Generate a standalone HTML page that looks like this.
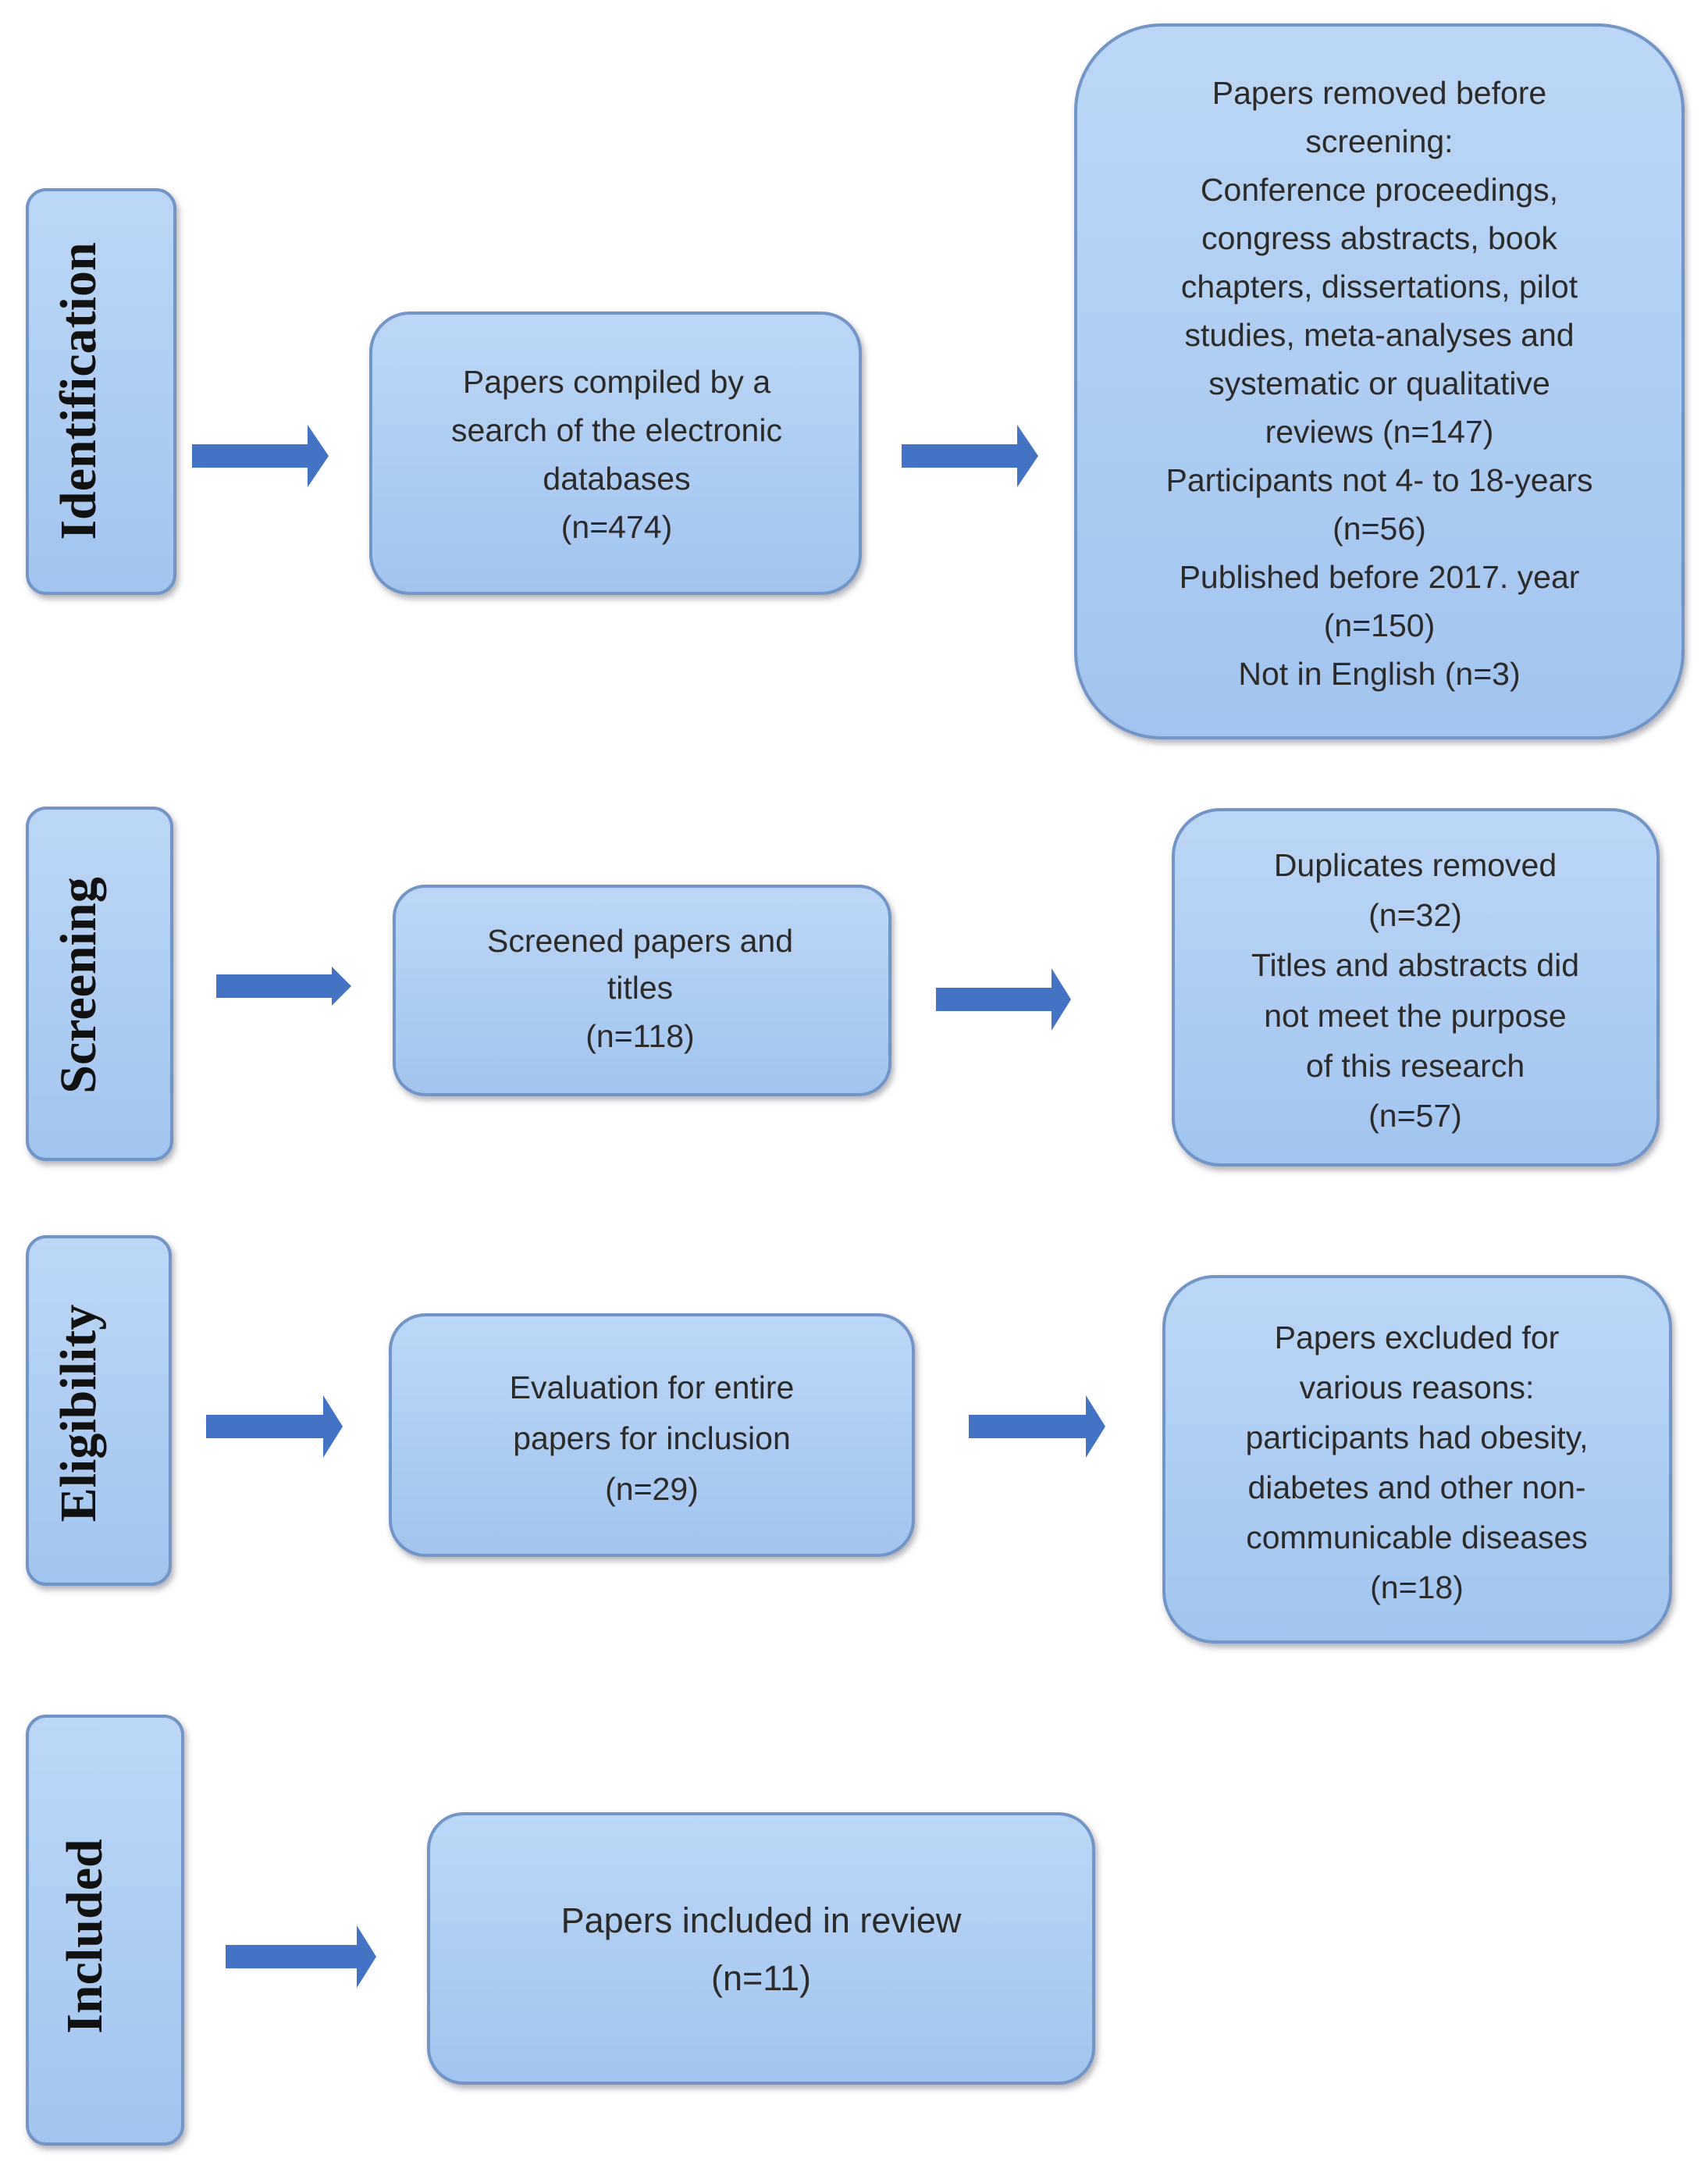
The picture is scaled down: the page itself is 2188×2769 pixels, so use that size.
<!DOCTYPE html>
<html><head><meta charset="utf-8"><style>
html,body{margin:0;padding:0;background:#fff;}
svg{display:block}
.t{font-family:"Liberation Sans",sans-serif;font-size:41px;fill:#2b2b2b;text-anchor:middle}
.l{font-family:"Liberation Serif",serif;font-weight:bold;font-size:66px;fill:#111;text-anchor:middle}
</style></head><body>
<svg width="2188" height="2769" viewBox="0 0 2188 2769" xmlns="http://www.w3.org/2000/svg">
<defs>
<linearGradient id="g" x1="0" y1="0" x2="0" y2="1">
<stop offset="0" stop-color="#bcd7f5"/><stop offset="1" stop-color="#a2c4ee"/></linearGradient>
<filter id="s" x="-10%" y="-10%" width="120%" height="120%"><feDropShadow dx="3" dy="5" stdDeviation="4" flood-color="#556" flood-opacity="0.45"/></filter>
</defs>
<g fill="url(#g)" stroke="#6f95c6" stroke-width="4" filter="url(#s)">
<rect x="35" y="243" width="189" height="517" rx="24"/>
<rect x="475" y="401" width="627" height="359" rx="50"/>
<rect x="1378" y="32" width="778" height="913" rx="110"/>
<rect x="35" y="1035" width="185" height="450" rx="24"/>
<rect x="505" y="1135" width="635" height="267" rx="40"/>
<rect x="1503" y="1037" width="621" height="455" rx="60"/>
<rect x="35" y="1584" width="183" height="445" rx="24"/>
<rect x="500" y="1684" width="670" height="308" rx="45"/>
<rect x="1491" y="1635" width="649" height="468" rx="65"/>
<rect x="35" y="2198" width="199" height="548" rx="24"/>
<rect x="549" y="2323" width="852" height="345" rx="45"/>
</g>
<g fill="#4472c4">
<path d="M246 569h148v-25l27 40-27 40v-25h-148z"/>
<path d="M1155 569h148v-25l27 40-27 40v-25h-148z"/>
<path d="M277 1248h148v-10l25 25-25 25v-10h-148z"/>
<path d="M1199 1265h148v-25l25 40-25 40v-25h-148z"/>
<path d="M264 1812h150v-25l25 40-25 40v-25h-150z"/>
<path d="M1241 1812h150v-25l25 40-25 40v-25h-150z"/>
<path d="M289 2491h168v-25l25 40-25 40v-25h-168z"/>
</g>
<text class="l" transform="translate(100,501) rotate(-90)" dy="22">Identification</text>
<text class="l" transform="translate(100,1262) rotate(-90)" dy="22">Screening</text>
<text class="l" transform="translate(100,1810) rotate(-90)" dy="22">Eligibility</text>
<text class="l" transform="translate(108,2480) rotate(-90)" dy="22">Included</text>
<text class="t"><tspan x="790" y="503">Papers compiled by a</tspan><tspan x="790" y="565">search of the electronic</tspan><tspan x="790" y="627">databases</tspan><tspan x="790" y="689">(n=474)</tspan></text>
<text class="t"><tspan x="1767" y="133">Papers removed before</tspan><tspan x="1767" y="195">screening:</tspan><tspan x="1767" y="257">Conference proceedings,</tspan><tspan x="1767" y="319">congress abstracts, book</tspan><tspan x="1767" y="381">chapters, dissertations, pilot</tspan><tspan x="1767" y="443">studies, meta-analyses and</tspan><tspan x="1767" y="505">systematic or qualitative</tspan><tspan x="1767" y="567">reviews (n=147)</tspan><tspan x="1767" y="629">Participants not 4- to 18-years</tspan><tspan x="1767" y="691">(n=56)</tspan><tspan x="1767" y="753">Published before 2017. year</tspan><tspan x="1767" y="815">(n=150)</tspan><tspan x="1767" y="877">Not in English (n=3)</tspan></text>
<text class="t"><tspan x="820" y="1219">Screened papers and</tspan><tspan x="820" y="1279">titles</tspan><tspan x="820" y="1341">(n=118)</tspan></text>
<text class="t"><tspan x="1813" y="1122">Duplicates removed</tspan><tspan x="1813" y="1186">(n=32)</tspan><tspan x="1813" y="1250">Titles and abstracts did</tspan><tspan x="1813" y="1315">not meet the purpose</tspan><tspan x="1813" y="1379">of this research</tspan><tspan x="1813" y="1443">(n=57)</tspan></text>
<text class="t"><tspan x="835" y="1791">Evaluation for entire</tspan><tspan x="835" y="1856">papers for inclusion</tspan><tspan x="835" y="1921">(n=29)</tspan></text>
<text class="t"><tspan x="1815" y="1727">Papers excluded for</tspan><tspan x="1815" y="1791">various reasons:</tspan><tspan x="1815" y="1855">participants had obesity,</tspan><tspan x="1815" y="1919">diabetes and other non-</tspan><tspan x="1815" y="1983">communicable diseases</tspan><tspan x="1815" y="2047">(n=18)</tspan></text>
<text class="t" style="font-size:45px"><tspan x="975" y="2475">Papers included in review</tspan><tspan x="975" y="2549">(n=11)</tspan></text>
</svg>
</body></html>
